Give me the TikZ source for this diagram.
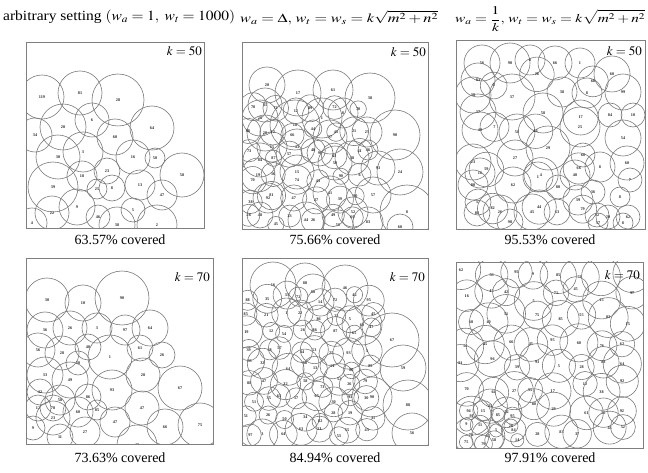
\documentclass[tikz,border=0pt]{standalone}
\usepackage{mathptmx}
\usepackage{fontspec}
\setmainfont{Liberation Serif}
\tikzset{
 circ/.style={draw=black!52, line width=0.6pt},
 num/.style={font=\fontsize{4.2}{5}\selectfont\bfseries, text=black!85, inner sep=0pt},
 panelbox/.style={draw=black!50, line width=0.9pt},
 caption/.style={font=\fontsize{14}{16}\selectfont, inner sep=0pt},
 klabel/.style={font=\fontsize{13}{15}\selectfont, inner sep=0pt, anchor=north east},
 head/.style={font=\fontsize{14}{16}\selectfont, inner sep=0pt, anchor=west},
}
\newcommand{\panelcircles}[2]{%
  \foreach \x/\y/\r/\l [count=\i] in {#2}{
    \draw[circ] (\x,\y) circle[radius=\r pt];
    \node[num] (#1c\i) at (\x,\y) {\l};
  }}
\newcommand{\gridfill}[7]{%
  \pgfmathsetseed{#2}%
  \foreach \gx [count=\ii] in {#3}{
    \foreach \gy [count=\jj] in {#4}{
      \pgfmathsetmacro\pX{\gx+(rnd-0.5)*2*#5}
      \pgfmathsetmacro\pY{\gy+(rnd-0.5)*2*#5}
      \pgfmathsetmacro\rad{#6+rnd*#7}
      \pgfmathtruncatemacro\lab{1+rnd*98}
      \pgfmathtruncatemacro\sk{and(\pX>140,\pY<24)}
      \draw[circ] (\pX,\pY) circle[radius=\rad pt];
      \ifnum\sk=0 \node[num] (#1g\ii-\jj) at (\pX,\pY) {\lab};\fi
  }}}
\begin{document}
\begin{tikzpicture}[x=1pt,y=-1pt]
\useasboundingbox (0,0) rectangle (648,473);
% headers
\node[head] (h1) at (3,17) {\resizebox{232pt}{\height}{arbitrary setting $(w_a=1,\ w_t=1000)$}};
\node[head] (h2) at (240,18) {\resizebox{198pt}{0.9\height}{$w_a=\Delta,\, w_t=w_s=k\sqrt{m^2+n^2}$}};
\node[head] (h3) at (455,19) {\resizebox{190pt}{0.85\height}{$w_a=\displaystyle\frac{1}{k},\, w_t=w_s=k\sqrt{m^2+n^2}$}};

% panel 1
\begin{scope}[shift={(26,42)}]
\begin{scope}
\clip (0,0) rectangle (178,186);
\panelcircles{pa}{16/55/22/119, 54/51/22/81, 92/58/26/28, 37/85/23/20, 66/78/17/6,
 9/93/17/34, 126/86/22/64, 89/95/18/60, 57/110/20/3, 32/115/22/30, 107/115/17/16,
 129/116/10/50, 156/133/22/58, 56/134/15/18, 81/129/13/23, 114/143/15/13, 27/145/25/39,
 71/147/10/25, 86/146/13/8, 136/153/15/47, 51/165/18/9, 26/171/17/22, 107/168/12/5,
 72/175/12/46, 91/183/18/38, 6/181/15/4, 131/183/20/2}
\end{scope}
\draw[panelbox] (0,0) rectangle (178,186);
\node[klabel] (k1) at (176,4) {$k=50$};
\end{scope}
\node[caption] (cap1) at (120,240) {63.57\% covered};

% panel 2
\begin{scope}[shift={(242,42)}]
\begin{scope}
\clip (0,0) rectangle (186,187);
\panelcircles{pb}{25/43/18/20, 56/51/23/17, 91/48/20/61, 128/56/25/38, 23/63/17/81,
 18/76/18/28, 80/76/20/1, 101/71/15/8, 53/83/25/18, 153/93/25/90, 23/91/18/20,
 88/95/17/27, 125/90/15/25, 30/105/15/65, 55/105/18/43, 78/111/13/96, 126/108/10/46,
 18/118/17/84, 158/130/23/24, 110/116/17/48, 136/126/17/93, 93/121/17/50, 16/133/17/19,
 55/130/17/15, 26/156/15/92, 131/153/18/57, 88/151/17/41, 18/173/13/48, 64/178/18/44,
 111/170/15/52, 96/183/15/50, 126/180/15/83, 158/185/13/60, 165/170/27/8}
\gridfill{pb}{21}{10,31,52,73,94,115}{68,90,112,134,156,178}{5}{8}{7}
\end{scope}
\draw[panelbox] (0,0) rectangle (186,187);
\node[klabel] (k2) at (184,5) {$k=50$};
\end{scope}
\node[caption] (cap2) at (335,240) {75.66\% covered};

% panel 3
\begin{scope}[shift={(456,40)}]
\begin{scope}
\clip (0,0) rectangle (189,189);
\panelcircles{pc}{26/23/18/56, 54/23/20/90, 74/20/15/8, 99/23/17/66, 124/23/15/1,
 156/34/18/60, 22/40/17/83, 17/55/18/38, 56/57/23/37, 106/52/15/38, 131/53/15/8,
 167/52/18/99, 22/72/18/37, 87/73/20/58, 154/75/12/84, 177/75/12/10, 24/90/18/40,
 61/92/18/58, 124/87/20/25, 167/98/18/54, 17/122/18/23, 59/118/18/27, 92/108/22/29,
 127/115/12/60, 144/127/15/8, 171/123/17/60, 24/133/15/16, 82/137/15/1, 119/135/15/40,
 174/140/12/7, 17/145/15/80, 57/145/18/62, 102/147/12/80, 22/162/13/37, 137/152/12/36,
 164/157/10/8, 21/173/13/88, 44/172/17/26, 76/172/18/45, 101/172/13/63, 122/160/15/39,
 141/175/12/12, 152/177/12/29, 172/177/12/62, 54/182/13/98, 142/183/10/57, 167/183/10/8}
\gridfill{pc}{5}{38,83,128}{38,83,128,170}{9}{13}{6}
\end{scope}
\draw[panelbox] (0,0) rectangle (189,189);
\node[klabel] (k3) at (186,6) {$k=50$};
\end{scope}
\node[caption] (cap3) at (550,240) {95.53\% covered};

% panel 4
\begin{scope}[shift={(26,258)}]
\begin{scope}
\clip (0,0) rectangle (187,186);
\panelcircles{pd}{21/42/22/30, 57/45/18/10, 96/40/27/90, 124/70/18/64, 19/72/18/36,
 44/70/17/26, 71/70/15/3, 99/72/15/97, 114/90/13/61, 136/97/13/26, 12/92/17/56,
 36/95/17/28, 62/89/13/40, 84/99/22/1, 52/105/12/20, 19/117/18/33, 44/122/18/49,
 117/117/17/28, 154/130/22/67, 86/132/20/93, 14/134/13/42, 34/142/15/58, 62/139/13/86,
 116/150/17/47, 27/150/13/78, 12/150/13/12, 52/154/15/60, 27/160/17/23, 71/152/10/85,
 89/164/15/47, 139/169/18/66, 174/167/22/75, 59/174/15/27, 34/179/13/11, 7/170/12/9,
 111/187/20/48}
\end{scope}
\draw[panelbox] (0,0) rectangle (187,186);
\node[klabel] (k4) at (184,14) {$k=70$};
\end{scope}
\node[caption] (cap4) at (120,458) {73.63\% covered};

% panel 5
\begin{scope}[shift={(242,258)}]
\begin{scope}
\clip (0,0) rectangle (186,187);
\panelcircles{pe}{31/27/23/16, 63/25/20/88, 103/30/23/46, 71/34/18/80, 150/82/27/67,
 161/110/23/59, 166/147/25/88, 170/175/20/56, 120/67/20/60, 130/139/20/90}
\gridfill{pe}{9}{8,25,42,59,76,93,110,127}{40,57,74,91,108,125,142,159,176}{5}{8}{8}
\end{scope}
\draw[panelbox] (0,0) rectangle (186,187);
\node[klabel] (k5) at (183,14) {$k=70$};
\end{scope}
\node[caption] (cap5) at (335,458) {84.94\% covered};

% panel 6
\begin{scope}[shift={(456,262)}]
\begin{scope}
\clip (0,0) rectangle (187,186);
\gridfill{pf}{3}{10,33,56,79,102,125,148,171}{10,33,56,79,102,125,148,171}{6}{12}{8}
\gridfill{pg}{17}{10,26,42,58}{150,166,182}{4}{6}{5}
\end{scope}
\draw[panelbox] (0,0) rectangle (187,186);
\node[klabel] (k6) at (184,8) {$k=70$};
\end{scope}
\node[caption] (cap6) at (550,458) {97.91\% covered};
\end{tikzpicture}
\end{document}
